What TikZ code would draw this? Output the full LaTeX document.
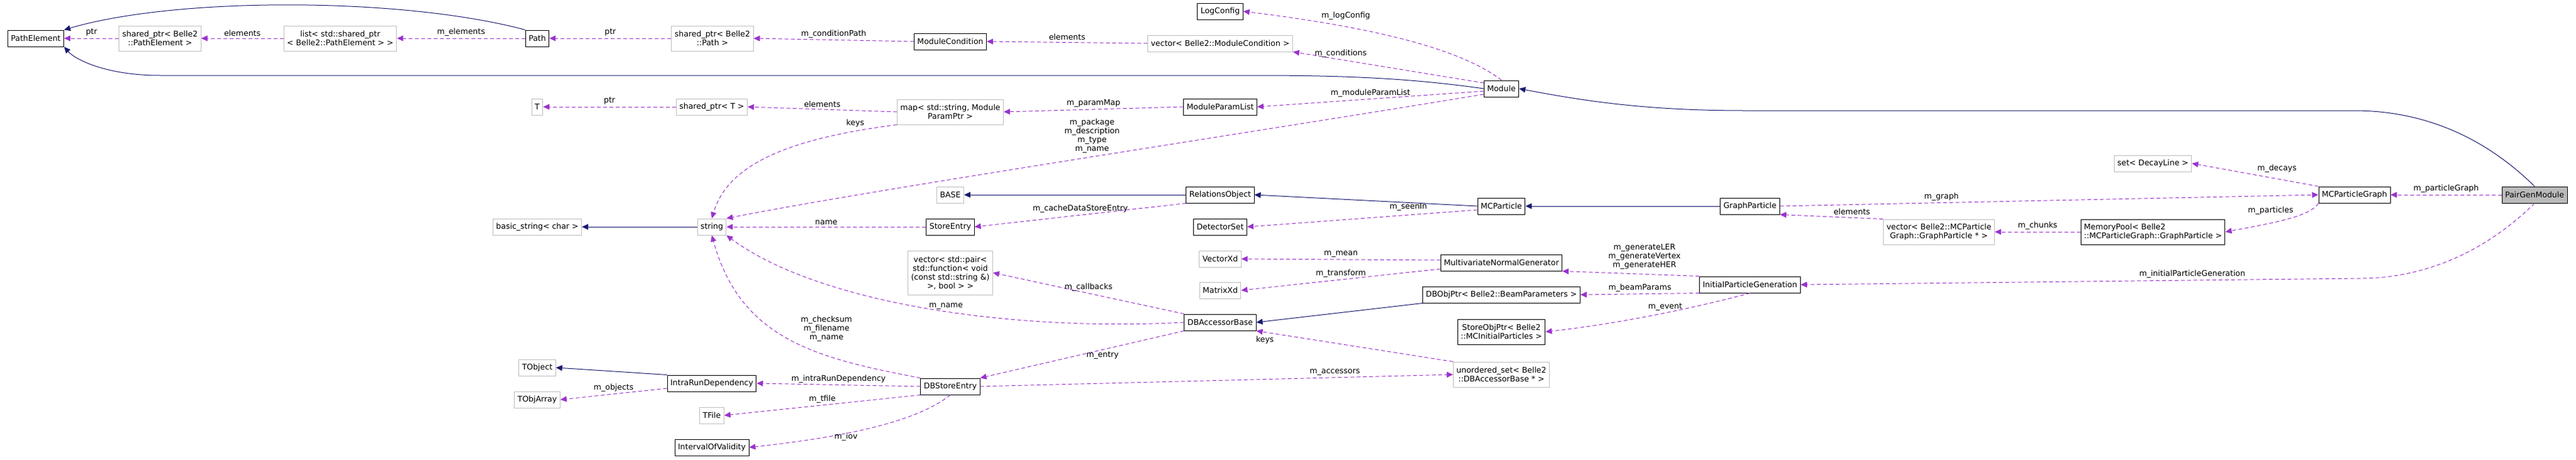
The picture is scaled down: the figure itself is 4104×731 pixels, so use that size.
\documentclass[tikz,border=0pt]{standalone}
\usepackage{fontspec}
\setmainfont{DejaVu Sans}
\usetikzlibrary{arrows.meta}
\definecolor{inhcol}{RGB}{25,25,112}
\definecolor{usecol}{RGB}{154,50,205}
\definecolor{extcol}{RGB}{191,191,191}
\tikzset{
  cls/.style={draw=black, line width=1pt, fill=white, minimum height=26pt, inner xsep=5pt, inner ysep=2pt, align=center, font=\fontsize{12.5}{14}\selectfont},
  ext/.style={cls, draw=extcol},
  tall/.style={minimum height=40pt},
  inh/.style={draw=inhcol, line width=1pt, -{Triangle[length=10pt,width=9pt]}},
  use/.style={draw=usecol, line width=1pt, dash pattern=on 6pt off 4pt, -{Triangle[length=10pt,width=9pt]}},
  lbl/.style={font=\fontsize{12.5}{14}\selectfont, align=center, inner sep=3pt, text=black}
}
\begin{document}
\begin{tikzpicture}[x=1pt, y=-1pt]
\useasboundingbox (0,0) rectangle (4104,731);

% classes
\node[cls] (pathel) at (57,61) {PathElement};
\node[ext, tall] (sppathel) at (255,61) {shared\_ptr< Belle2\\::PathElement >};
\node[ext, tall] (listpe) at (542,61) {list< std::shared\_ptr\\< Belle2::PathElement > >};
\node[cls] (path) at (856,61) {Path};
\node[ext] (tt) at (856,170) {T};
\node[ext] (bstr) at (856,361) {basic\_string< char >};
\node[ext] (tobj) at (856,585) {TObject};
\node[ext] (tobjarr) at (856,636) {TObjArray};

\node[ext, tall] (sppath) at (1135,61) {shared\_ptr< Belle2\\::Path >};
\node[ext] (spt) at (1134,170) {shared\_ptr< T >};
\node[ext] (str) at (1134,361) {string};
\node[cls] (intrarun) at (1134,610) {IntraRunDependency};
\node[ext] (tfile) at (1134,661) {TFile};
\node[cls] (iov) at (1134,712) {IntervalOfValidity};

\node[cls] (modcond) at (1514,66) {ModuleCondition};
\node[ext, tall] (parmap) at (1514,178) {map< std::string, Module\\ParamPtr >};
\node[ext] (base) at (1514,310) {BASE};
\node[cls] (storeentry) at (1514,361) {StoreEntry};
\node[ext, minimum height=70pt] (callbacks) at (1514,434) {vector< std::pair<\\std::function< void\\(const std::string \&)\\>, bool > >};
\node[cls] (dbstore) at (1514,615) {DBStoreEntry};

\node[cls] (logcfg) at (1944,18) {LogConfig};
\node[ext] (vecmodcond) at (1944,69) {vector< Belle2::ModuleCondition >};
\node[cls] (paramlist) at (1944,170) {ModuleParamList};
\node[cls] (relobj) at (1944,310) {RelationsObject};
\node[cls] (detset) at (1944,361) {DetectorSet};
\node[ext] (vecxd) at (1944,412) {VectorXd};
\node[ext] (matxd) at (1944,462) {MatrixXd};
\node[cls] (dbacc) at (1944,513) {DBAccessorBase};

\node[cls] (module) at (2392,141) {Module};
\node[cls] (mcpart) at (2392,328) {MCParticle};
\node[cls] (mvng) at (2392,418) {MultivariateNormalGenerator};
\node[cls] (beampar) at (2392,469) {DBObjPtr< Belle2::BeamParameters >};
\node[cls, tall] (mcinit) at (2392,528) {StoreObjPtr< Belle2\\::MCInitialParticles >};
\node[ext, tall] (accset) at (2392,596) {unordered\_set< Belle2\\::DBAccessorBase * >};

\node[cls] (graphpart) at (2788,328) {GraphParticle};
\node[cls] (initgen) at (2788,453) {InitialParticleGeneration};
\node[ext, tall] (vecgp) at (3089,369) {vector< Belle2::MCParticle\\Graph::GraphParticle * >};
\node[ext] (decays) at (3430,260) {set< DecayLine >};
\node[cls, tall, align=left] (mempool) at (3430,369) {MemoryPool< Belle2\\::MCParticleGraph::GraphParticle >};
\node[cls] (pgraph) at (3751,310) {MCParticleGraph};
\node[cls, fill=black!27] (pairgen) at (4038,310) {PairGenModule};

% inheritance
\draw[inh] (path.north west) .. controls (640,-5) and (280,-5) .. (pathel.north east);
\draw[inh] (module.west) .. controls (2250,125) and (2150,120) .. (2000,120) -- (255,120) .. controls (170,120) and (120,95) .. (pathel.south east);
\draw[inh] (pairgen.north) .. controls (3950,210) and (3850,176) .. (3750,176) -- (2780,176) .. controls (2620,176) and (2520,160) .. (module.east);
\draw[inh] (str.west) -- (bstr.east);
\draw[inh] (relobj.west) -- (base.east);
\draw[inh] (mcpart.west) -- (relobj.east);
\draw[inh] (graphpart.west) -- (mcpart.east);
\draw[inh] (intrarun.north west) -- (tobj.east);
\draw[inh] (beampar.south west) -- (dbacc.east);

% members
\draw[use] (sppathel.west) -- node[lbl, above] {ptr} (pathel.east);
\draw[use] (listpe.west) -- node[lbl, above] {elements} (sppathel.east);
\draw[use] (path.west) -- node[lbl, above] {m\_elements} (listpe.east);
\draw[use] (sppath.west) -- node[lbl, above] {ptr} (path.east);
\draw[use] (modcond.west) -- node[lbl, above] {m\_conditionPath} (sppath.east);
\draw[use] (vecmodcond.west) -- node[lbl, above] {elements} (modcond.east);
\draw[use] (module.north) .. controls (2330,80) and (2200,45) .. node[lbl, pos=0.8, above right] {m\_logConfig} (logcfg.east);
\draw[use] (module.west |- 0,132) -- node[lbl, pos=0.75, above] {m\_conditions} (vecmodcond.south east);
\draw[use] (module.west |- 0,145) -- node[lbl, pos=0.5, above] {m\_moduleParamList} (paramlist.east);
\draw[use] (module.west |- 0,150) .. controls (2000,210) and (1400,300) .. node[lbl, pos=0.45, above left=-4pt] {m\_package\\m\_description\\m\_type\\m\_name} (str.north east);
\draw[use] (spt.west) -- node[lbl, above] {ptr} (tt.east);
\draw[use] (parmap.west) -- node[lbl, above] {elements} (spt.east);
\draw[use] (parmap.south west) .. controls (1260,220) and (1160,260) .. node[lbl, pos=0.1, above left] {keys} (str.north);
\draw[use] (paramlist.west) -- node[lbl, above] {m\_paramMap} (parmap.east);
\draw[use] (relobj.south west) -- node[lbl, above] {m\_cacheDataStoreEntry} (storeentry.east);
\draw[use] (storeentry.west) -- node[lbl, above] {name} (str.east);
\draw[use] (mcpart.west |- 0,334) -- node[lbl, pos=0.3, above=3pt] {m\_seenIn} (detset.east);
\draw[use] (graphpart.east) -- node[lbl, pos=0.3, above] {m\_graph} (pgraph.west);
\draw[use] (vecgp.north west) -- node[lbl, above right] {elements} (graphpart.south east);
\draw[use] (mempool.west) -- node[lbl, above] {m\_chunks} (vecgp.east);
\draw[use] (pgraph.south west) .. controls (3680,345) and (3620,355) .. node[lbl, pos=0.4, above left] {m\_particles} (mempool.east);
\draw[use] (pgraph.north west) -- node[lbl, above right] {m\_decays} (decays.east);
\draw[use] (pairgen.west) -- node[lbl, above] {m\_particleGraph} (pgraph.east);
\draw[use] (pairgen.south) .. controls (3950,410) and (3850,443) .. (3760,443) -- node[lbl, pos=0.3, above] {m\_initialParticleGeneration} (initgen.east);
\draw[use] (mvng.west |- 0,414) -- node[lbl, above] {m\_mean} (vecxd.east);
\draw[use] (mvng.west |- 0,428) -- node[lbl, above] {m\_transform} (matxd.east);
\draw[use] (initgen.north west) -- node[lbl, pos=0.4, above=4pt] {m\_generateLER\\m\_generateVertex\\m\_generateHER} (mvng.south east);
\draw[use] (initgen.south west) -- node[lbl, above] {m\_beamParams} (beampar.east);
\draw[use] (initgen.south) .. controls (2700,490) and (2580,515) .. node[lbl, pos=0.45, above] {m\_event} (mcinit.east);
\draw[use] (dbacc.north west) -- node[lbl, above] {m\_callbacks} (callbacks.east);
\draw[use] (dbacc.west) .. controls (1600,528) and (1300,480) .. node[lbl, pos=0.45, above] {m\_name} (str.south east);
\draw[use] (dbacc.south west) -- node[lbl, pos=0.4, below] {m\_entry} (dbstore.north east);
\draw[use] (accset.north west) -- node[lbl, pos=0.9, below left] {keys} (dbacc.south east);
\draw[use] (dbstore.east) -- node[lbl, pos=0.75, above] {m\_accessors} (accset.west);
\draw[use] (dbstore.north west) .. controls (1300,570) and (1180,540) .. node[lbl, pos=0.45, above right] {m\_checksum\\m\_filename\\m\_name} (str.south);
\draw[use] (dbstore.west) -- node[lbl, above] {m\_intraRunDependency} (intrarun.east);
\draw[use] (dbstore.south west) -- node[lbl, above] {m\_tfile} (tfile.east);
\draw[use] (dbstore.south) .. controls (1450,680) and (1300,700) .. node[lbl, pos=0.5, below left] {m\_iov} (iov.east);
\draw[use] (intrarun.west |- 0,618) -- node[lbl, above] {m\_objects} (tobjarr.east);
\end{tikzpicture}
\end{document}
